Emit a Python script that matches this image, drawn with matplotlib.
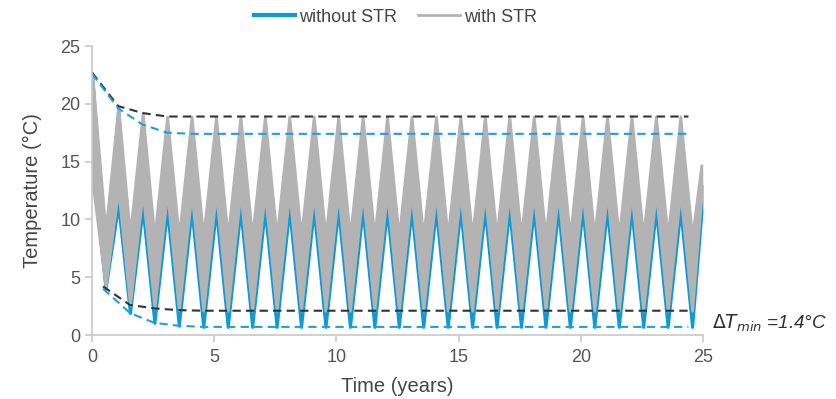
import matplotlib.pyplot as plt
import numpy as np
from matplotlib.lines import Line2D

plt.rcParams["font.family"] = ["Liberation Sans", "DejaVu Sans"]

# yearly summer peaks / winter troughs of the fluid temperature (°C)
years = np.arange(25)
with_str_peak = [22.7, 19.8, 19.2, 18.9] + [18.9] * 21
with_str_trough = [4.2, 2.6, 2.3, 2.15] + [2.1] * 21
without_str_peak = [22.6, 19.6, 18.2, 17.5] + [17.4] * 21
without_str_trough = [4.0, 1.9, 1.05, 0.8] + [0.7] * 21

# inner edges of the daily band
with_str_peak_low = [13.5, 12.6, 12.4] + [12.3] * 22
with_str_trough_high = [9.0, 8.7] + [8.5] * 23
without_str_peak_low = [15.0, 11.2, 10.9] + [10.8] * 22
without_str_trough_high = [6.5, 6.0] + [6.0] * 23

# last partial rise at the end of year 25
end_t = 24.93
with_str_end = (12.0, 14.7)
without_str_end = (10.5, 13.0)
envelope_end = 24.4
delta_t_min = 1.4

blue = "#0e9ad7"
grey = "#b3b3b3"
text_col = "#454545"

peak_t = np.r_[0.0, years[1:] + 0.07]
trough_t = years + 0.55


def band(peak_hi, peak_lo, trough_hi, trough_lo, end):
    t = np.empty(2 * len(years) + 1)
    lo = np.empty_like(t)
    hi = np.empty_like(t)
    t[0:-1:2], t[1:-1:2], t[-1] = peak_t, trough_t, end_t
    hi[0:-1:2], hi[1:-1:2], hi[-1] = peak_hi, trough_hi, end[1]
    lo[0:-1:2], lo[1:-1:2], lo[-1] = peak_lo, trough_lo, end[0]
    return t, lo, hi


fig = plt.figure(figsize=(8.37, 3.99), dpi=100)
ax = fig.add_axes([0.11, 0.1604, 0.73, 0.7243])

t, lo, hi = band(without_str_peak, without_str_peak_low,
                 without_str_trough_high, without_str_trough, without_str_end)
ax.fill_between(t, lo, hi, color=blue, lw=2.2, edgecolor=blue)
t, lo, hi = band(with_str_peak, with_str_peak_low,
                 with_str_trough_high, with_str_trough, with_str_end)
ax.fill_between(t, lo, hi, color=grey, lw=2.0, edgecolor=grey)

# envelopes of the yearly maxima and minima
dash = (0, (4, 2.5))
ax.plot(np.r_[peak_t, envelope_end], np.r_[with_str_peak, with_str_peak[-1]],
        color="#333333", lw=1.5, ls=dash)
ax.plot(np.r_[peak_t, envelope_end], np.r_[without_str_peak, without_str_peak[-1]],
        color="#1ba1e2", lw=1.5, ls=dash)
low_t = np.r_[0.45, trough_t[1:-1], envelope_end]
ax.plot(low_t, with_str_trough, color="#333333", lw=1.5, ls=dash)
ax.plot(low_t, without_str_trough, color="#1ba1e2", lw=1.5, ls=dash)

ax.text(25.35, 1.0, r"$\Delta \mathit{T}_{\mathit{min}}$ =" + f"{delta_t_min}°C",
        fontsize=13.5, style="italic", color="#303030", va="center", clip_on=False)

ax.set_xlim(0, 25)
ax.set_ylim(0, 25)
ax.set_xticks(range(0, 26, 5))
ax.set_yticks(range(0, 26, 5))
for side in ("top", "right"):
    ax.spines[side].set_visible(False)
for side in ("left", "bottom"):
    ax.spines[side].set_color("#c8c8c8")
    ax.spines[side].set_linewidth(1.2)
ax.tick_params(colors="#c8c8c8", labelcolor="#555555", labelsize=13, length=5,
               width=1.2)
ax.tick_params(axis="x", pad=5)
ax.set_xlabel("Time (years)", fontsize=14.5, color=text_col, labelpad=8)
ax.set_ylabel("Temperature (°C)", fontsize=14.5, color=text_col, labelpad=13)

handles = [Line2D([], [], color=blue, lw=3), Line2D([], [], color=grey, lw=2)]
fig.legend(handles, ["without STR", "with STR"], loc="center",
           bbox_to_anchor=(0.472, 0.957), ncol=2, frameon=False, fontsize=13,
           handlelength=2.3, handletextpad=0.2, columnspacing=1.2,
           labelcolor=text_col)

fig.savefig("out.png", dpi=100)
